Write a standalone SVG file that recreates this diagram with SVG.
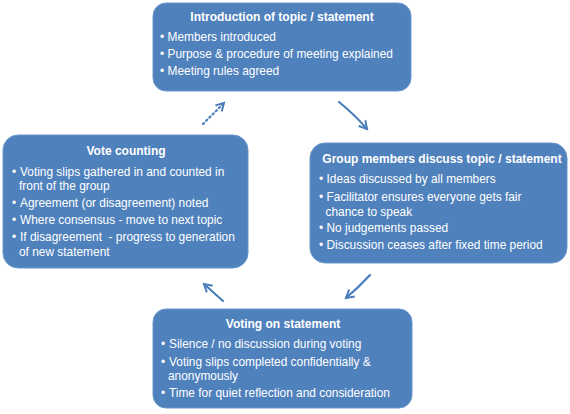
<svg xmlns="http://www.w3.org/2000/svg" width="570" height="414" viewBox="0 0 570 414">
<defs>
<marker id="ah" viewBox="0 0 10 10" refX="8" refY="5" markerWidth="5" markerHeight="5" orient="auto" markerUnits="strokeWidth">
<path d="M1,1 L8,5 L1,9" fill="none" stroke="#4a7ebb" stroke-width="1.8" stroke-linejoin="miter"/>
</marker>
</defs>
<style>
.box{fill:#4f81bd;stroke:#6a96cc;stroke-width:1}
.t{font-family:"Liberation Sans",Arial,sans-serif;fill:#fff}
.h{font-size:12px;font-weight:bold;text-anchor:middle}
.b{font-size:11.9px}
.d{font-size:11.9px;text-anchor:middle}
.c{fill:none;stroke:#4a7ebb;stroke-width:2.2;stroke-linecap:round}
</style>
<rect width="570" height="414" fill="#fff"/>
<g id="intro">
<rect class="box" x="153" y="3" width="258" height="88" rx="13"/>
<text class="t h" x="282" y="21">Introduction of topic / statement</text>
<text class="t d" x="162" y="41">•</text><text class="t b" x="167.5" y="41">Members introduced</text>
<text class="t d" x="162" y="58">•</text><text class="t b" x="167.5" y="58">Purpose &amp; procedure of meeting explained</text>
<text class="t d" x="162" y="75">•</text><text class="t b" x="167.5" y="75">Meeting rules agreed</text>
</g>
<g id="discuss">
<rect class="box" x="310" y="143" width="257" height="120" rx="15"/>
<text class="t h" x="442" y="163">Group members discuss topic / statement</text>
<text class="t d" x="321" y="183">•</text><text class="t b" x="326.5" y="183">Ideas discussed by all members</text>
<text class="t d" x="321" y="201">•</text><text class="t b" x="326.5" y="201">Facilitator ensures everyone gets fair</text>
<text class="t b" x="325.5" y="216">chance to speak</text>
<text class="t d" x="321" y="232">•</text><text class="t b" x="326.5" y="232">No judgements passed</text>
<text class="t d" x="321" y="249">•</text><text class="t b" x="326.5" y="249">Discussion ceases after fixed time period</text>
</g>
<g id="voting">
<rect class="box" x="153" y="309" width="259" height="99" rx="13"/>
<text class="t h" x="283" y="328">Voting on statement</text>
<text class="t d" x="163" y="348">•</text><text class="t b" x="169" y="348">Silence / no discussion during voting</text>
<text class="t d" x="163" y="366">•</text><text class="t b" x="169" y="366">Voting slips completed confidentially &amp;</text>
<text class="t b" x="168" y="380">anonymously</text>
<text class="t d" x="163" y="397">•</text><text class="t b" x="169" y="397">Time for quiet reflection and consideration</text>
</g>
<g id="counting">
<rect class="box" x="3" y="135" width="245" height="133" rx="15"/>
<text class="t h" x="126" y="155">Vote counting</text>
<text class="t d" x="14" y="176">•</text><text class="t b" x="20" y="176">Voting slips gathered in and counted in</text>
<text class="t b" x="19" y="190">front of the group</text>
<text class="t d" x="14" y="207">•</text><text class="t b" x="20" y="207">Agreement (or disagreement) noted</text>
<text class="t d" x="14" y="224">•</text><text class="t b" x="20" y="224">Where consensus - move to next topic</text>
<text class="t d" x="14" y="241">•</text><text class="t b" x="20" y="241" xml:space="preserve">If disagreement  - progress to generation</text>
<text class="t b" x="19" y="256">of new statement</text>
</g>
<g id="connectors">
<path class="c" d="M339,102 Q355,115 367,129" marker-end="url(#ah)"/>
<path class="c" d="M370,275 Q358,288 346,298" marker-end="url(#ah)"/>
<path class="c" d="M223,301 Q213,292 204,284" marker-end="url(#ah)"/>
<path class="c" d="M203,124 L224,103" stroke-dasharray="1.5,3" marker-end="url(#ah)"/>
</g>
</svg>
